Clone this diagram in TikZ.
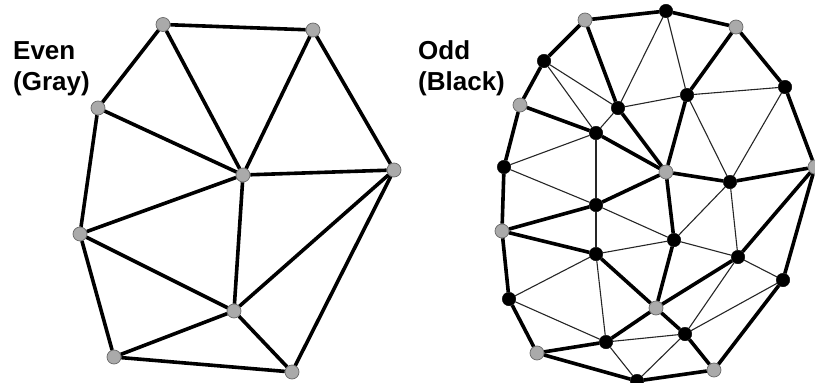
\documentclass[tikz,border=0pt]{standalone}
\usepackage{fontspec}
\setmainfont{Liberation Sans}
\definecolor{nodegray}{RGB}{170,170,170}
\definecolor{rimgray}{RGB}{105,105,105}
\begin{document}
\begin{tikzpicture}[x=1pt,y=-1pt,
  gnode/.style={circle,fill=nodegray,draw=rimgray,line width=0.7pt,minimum size=14pt,inner sep=0pt},
  bnode/.style={circle,fill=black,draw=black,line width=0.4pt,minimum size=13.5pt,inner sep=0pt},
  thick edge/.style={line width=3.6pt,black},
  thin edge/.style={line width=1.1pt,black!85},
  lbl/.style={font=\bfseries\fontsize{26}{30}\selectfont,anchor=base west,inner sep=0pt}]
\useasboundingbox (0,0) rectangle (815,383);
% labels
\node[lbl] (even1) at (13,59) {Even};
\node[lbl] (even2) at (13,90) {(Gray)};
\node[lbl] (odd1) at (418,59) {Odd};
\node[lbl] (odd2) at (418,90) {(Black)};
% ---------- left graph ----------
\node[gnode] (A) at (163,24.5) {};
\node[gnode] (B) at (313,30) {};
\node[gnode] (C) at (98,108) {};
\node[gnode] (D) at (243,175) {};
\node[gnode] (E) at (394,170) {};
\node[gnode] (F) at (80,234) {};
\node[gnode] (G) at (234,311) {};
\node[gnode] (H) at (114,357) {};
\node[gnode] (I) at (292,372) {};
\foreach \u/\v in {A/B,A/C,A/D,B/D,B/E,C/D,C/F,D/E,D/F,D/G,F/G,F/H,E/G,E/I,G/H,G/I,H/I}
  \draw[thick edge] (\u) -- (\v);
% ---------- right graph ----------
\node[gnode] (rA) at (585,20) {};
\node[gnode] (rB) at (736,27) {};
\node[gnode] (rC) at (520,105) {};
\node[gnode] (rD) at (666,172) {};
\node[gnode] (rE) at (815,167) {};
\node[gnode] (rF) at (502,231) {};
\node[gnode] (rG) at (656,308) {};
\node[gnode] (rH) at (537,353) {};
\node[gnode] (rI) at (714,370) {};
\node[bnode] (mAB) at (666,11) {};
\node[bnode] (mAC) at (544,61) {};
\node[bnode] (mAD) at (618,108) {};
\node[bnode] (mBD) at (687,95) {};
\node[bnode] (mBE) at (785,87) {};
\node[bnode] (mCD) at (596,133) {};
\node[bnode] (mCF) at (504,167) {};
\node[bnode] (mDE) at (730,182) {};
\node[bnode] (mDF) at (596,205) {};
\node[bnode] (mDG) at (674,240) {};
\node[bnode] (mFG) at (596,254) {};
\node[bnode] (mEG) at (738,257) {};
\node[bnode] (mEI) at (783,280) {};
\node[bnode] (mFH) at (509,299) {};
\node[bnode] (mGI) at (685,334) {};
\node[bnode] (mGH) at (606,342) {};
\node[bnode] (mHI) at (637,381) {};
% thin edges: midpoints of each face
\foreach \u/\v in {mAC/mAD,mAD/mCD,mAC/mCD,
                   mAB/mAD,mAB/mBD,mAD/mBD,
                   mBD/mBE,mBD/mDE,mBE/mDE,
                   mCD/mCF,mCD/mDF,mCF/mDF,
                   mDF/mDG,mDF/mFG,mDG/mFG,
                   mDE/mDG,mDE/mEG,mDG/mEG,
                   mEG/mEI,mEG/mGI,mEI/mGI,
                   mFG/mFH,mFG/mGH,mFH/mGH,
                   mGH/mGI,mGH/mHI,mGI/mHI}
  \draw[thin edge] (\u) -- (\v);
% thick edges: halves of the original edges
\foreach \u/\m/\v in {A/AB/B,A/AC/C,A/AD/D,B/BD/D,B/BE/E,C/CD/D,C/CF/F,D/DE/E,D/DF/F,D/DG/G,F/FG/G,E/EG/G,E/EI/I,F/FH/H,G/GI/I,G/GH/H,H/HI/I}
  \draw[thick edge] (r\u) -- (m\m) -- (r\v);
\end{tikzpicture}
\end{document}
